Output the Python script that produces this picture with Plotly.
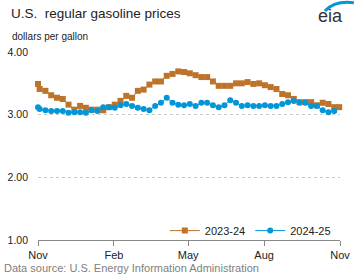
import pandas as pd
import plotly.graph_objects as go

# Data (dollars per gallon), weekly, plotted on a common Nov-to-Nov axis
dates_2324 = (["2023-11-01"]
              + [d.strftime("%Y-%m-%d") for d in pd.date_range("2023-11-03", periods=52, freq="7D")]
              + ["2024-10-31"])
prices_2324 = [3.49, 3.41, 3.38, 3.31, 3.27, 3.25, 3.16, 3.08, 3.14, 3.11,
               3.08, 3.08, 3.07, 3.12, 3.16, 3.22, 3.30, 3.27, 3.38, 3.40,
               3.48, 3.53, 3.53, 3.62, 3.65, 3.69, 3.68, 3.66, 3.63, 3.60,
               3.60, 3.53, 3.46, 3.46, 3.46, 3.50, 3.50, 3.52, 3.49, 3.50,
               3.47, 3.44, 3.41, 3.33, 3.31, 3.25, 3.20, 3.20, 3.20, 3.15,
               3.19, 3.17, 3.12, 3.12]
prices_2425 = [3.12, 3.09, 3.07, 3.06, 3.06, 3.06, 3.03, 3.04, 3.04, 3.03,
               3.07, 3.06, 3.12, 3.12, 3.11, 3.15, 3.17, 3.14, 3.11, 3.09,
               3.07, 3.14, 3.19, 3.27, 3.19, 3.16, 3.15, 3.17, 3.14, 3.19,
               3.19, 3.15, 3.12, 3.15, 3.23, 3.19, 3.14, 3.15, 3.14, 3.14,
               3.15, 3.14, 3.14, 3.17, 3.20, 3.22, 3.19, 3.19, 3.14, 3.14,
               3.07, 3.04, 3.06]
dates_2425 = dates_2324[:len(prices_2425)]

tick_dates = ["2023-11-01", "2024-02-01", "2024-05-01", "2024-08-01", "2024-11-01"]
tick_labels = ["Nov", "Feb", "May", "Aug", "Nov"]
y_ticks = [1, 2, 3, 4]

ORANGE = "#BD732A"
BLUE = "#0096D7"
FONT = "Liberation Sans, Arial, sans-serif"

fig = go.Figure()
fig.add_trace(go.Scatter(
    x=dates_2324, y=prices_2324, name="2023-24", mode="lines+markers",
    line=dict(color=ORANGE, width=1),
    marker=dict(symbol="square", size=6, color=ORANGE),
    cliponaxis=False))
fig.add_trace(go.Scatter(
    x=dates_2425, y=prices_2425, name="2024-25", mode="lines+markers",
    line=dict(color=BLUE, width=1),
    marker=dict(symbol="circle", size=6, color=BLUE),
    cliponaxis=False))

fig.update_layout(
    width=354, height=278,
    margin=dict(l=38, r=14, t=52, b=38),
    paper_bgcolor="white", plot_bgcolor="white",
    font=dict(family=FONT, size=11, color="#222"),
    showlegend=True,
    legend=dict(orientation="h", x=0.42, y=0.05, xanchor="left", yanchor="middle",
                bgcolor="rgba(0,0,0,0)", font=dict(size=11, color="#222"),
                itemwidth=30, tracegroupgap=0),
    xaxis=dict(type="date", range=["2023-11-01", "2024-11-01"],
               tickvals=tick_dates, ticktext=tick_labels, automargin=False,
               ticks="outside", ticklen=5, tickcolor="#888", tickwidth=1,
               showline=True, linecolor="#888", linewidth=1,
               showgrid=False, zeroline=False,
               tickfont=dict(size=11, color="#222")),
    yaxis=dict(range=[1, 4], tickvals=y_ticks, tickformat=".2f", automargin=False,
               showgrid=True, gridcolor="#c8c8c8", griddash="dot", gridwidth=1,
               zeroline=False, showline=False, ticks="", ticklabelstandoff=9,
               tickfont=dict(size=10.5, color="#222")),
)

annotations = [
    dict(text="U.S.  regular gasoline prices", x=-0.096, y=1.207, xref="paper", yref="paper",
         xanchor="left", yanchor="middle", showarrow=False,
         font=dict(size=13.5, color="#222", family=FONT)),
    dict(text="dollars per gallon", x=-0.093, y=1.080, xref="paper", yref="paper",
         xanchor="left", yanchor="middle", showarrow=False,
         font=dict(size=10, color="#222", family=FONT)),
    dict(text="Data source: U.S. Energy Information Administration", x=-0.119, y=-0.149,
         xref="paper", yref="paper", xanchor="left", yanchor="middle", showarrow=False,
         font=dict(size=11, color="#808080", family=FONT)),
    dict(text="eia", x=1.017, y=1.192, xref="paper", yref="paper",
         xanchor="right", yanchor="middle", showarrow=False,
         font=dict(size=18, color="#333", family=FONT)),
]
fig.update_layout(annotations=annotations)

fig.add_shape(type="path", xref="paper", yref="paper",
              path="M 0.950,1.218 Q 0.983,1.275 1.046,1.262",
              line=dict(color=BLUE, width=3))

fig.write_html("out.html", config={"displayModeBar": False},
               post_script="document.body.style.margin='0';document.body.style.overflow='hidden';")
